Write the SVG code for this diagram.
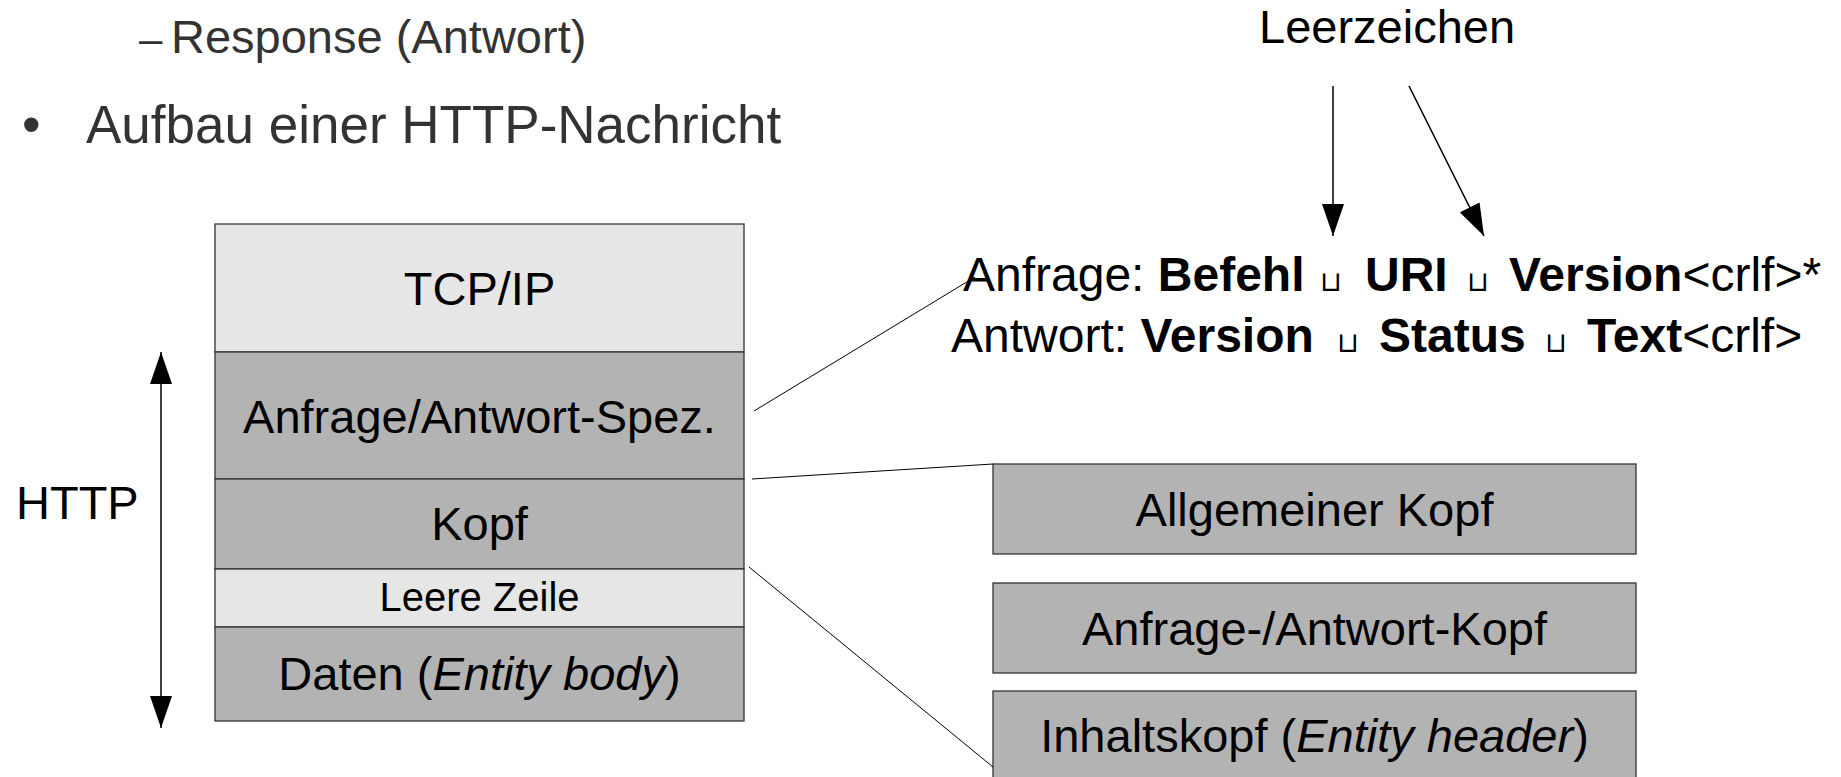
<svg xmlns="http://www.w3.org/2000/svg" width="1841" height="777" viewBox="0 0 1841 777">
  <style>
    .t { font-family: "Liberation Sans", Arial, sans-serif; fill: #000; }
    .h { font-family: "Liberation Sans", Arial, sans-serif; fill: #333; }
    .c { text-anchor: middle; }
    .b { font-weight: bold; }
    .sp { font-family: "DejaVu Sans", sans-serif; font-size: 28px; font-weight: normal; text-anchor: middle; }
    .light { fill: #e6e6e6; }
    .dark { fill: #b3b3b3; }
    .box { stroke: #333; stroke-width: 1.3; }
    .ln { stroke: #000; stroke-width: 1; fill: none; }
    .arr { stroke: #000; stroke-width: 1.5; fill: none; }
  </style>
  <defs>
    <marker id="ah" markerUnits="userSpaceOnUse" markerWidth="32" markerHeight="22" refX="32" refY="11" orient="auto-start-reverse">
      <path d="M0,0 L32,11 L0,22 Z" fill="#000"/>
    </marker>
  </defs>
  <rect width="1841" height="777" fill="#fff"/>

  <g id="heading">
    <text class="h" x="139" y="53" font-size="42">–</text>
    <text class="h" x="171" y="53" font-size="47">Response (Antwort)</text>
    <text class="h" x="22" y="143" font-size="53">•</text>
    <text class="h" x="86" y="143" font-size="53">Aufbau einer HTTP-Nachricht</text>
  </g>

  <g id="stack">
    <rect class="light box" x="215" y="224" width="529" height="128"/>
    <rect class="dark box" x="215" y="352" width="529" height="127"/>
    <rect class="dark box" x="215" y="479" width="529" height="90"/>
    <rect class="light box" x="215" y="569" width="529" height="58"/>
    <rect class="dark box" x="215" y="627" width="529" height="94"/>
    <text class="t c" x="479.5" y="305" font-size="47">TCP/IP</text>
    <text class="t c" x="479.5" y="433" font-size="47">Anfrage/Antwort-Spez.</text>
    <text class="t c" x="479.5" y="540" font-size="47">Kopf</text>
    <text class="t c" x="479.5" y="611" font-size="40">Leere Zeile</text>
    <text class="t c" x="479.5" y="690" font-size="47">Daten (<tspan font-style="italic">Entity body</tspan>)</text>
  </g>

  <g id="http-label">
    <text class="t" x="16" y="519" font-size="47">HTTP</text>
  </g>

  <g id="leerzeichen">
    <text class="t" x="1259" y="43" font-size="47">Leerzeichen</text>
  </g>

  <g id="request-line">
    <text class="t" y="291" font-size="48"><tspan x="963">Anfrage: </tspan><tspan class="b">Befehl</tspan><tspan class="sp" x="1331">⊔</tspan><tspan class="b" x="1365">URI</tspan><tspan class="sp" x="1478">⊔</tspan><tspan class="b" x="1509">Version</tspan><tspan>&lt;crlf&gt;*</tspan></text>
  </g>
  <g id="response-line">
    <text class="t" y="352" font-size="48"><tspan x="951">Antwort: </tspan><tspan class="b">Version</tspan><tspan class="sp" x="1348">⊔</tspan><tspan class="b" x="1379">Status</tspan><tspan class="sp" x="1556">⊔</tspan><tspan class="b" x="1587">Text</tspan><tspan>&lt;crlf&gt;</tspan></text>
  </g>

  <g id="allgemeiner-kopf">
    <rect class="dark box" x="993" y="464" width="643" height="90"/>
    <text class="t c" x="1314.5" y="526" font-size="47">Allgemeiner Kopf</text>
  </g>
  <g id="anfrage-antwort-kopf">
    <rect class="dark box" x="993" y="583" width="643" height="90"/>
    <text class="t c" x="1314.5" y="645" font-size="47">Anfrage-/Antwort-Kopf</text>
  </g>
  <g id="inhaltskopf">
    <rect class="dark box" x="993" y="691" width="643" height="100"/>
    <text class="t c" x="1314.5" y="752" font-size="47">Inhaltskopf (<tspan font-style="italic">Entity header</tspan>)</text>
  </g>

  <g id="connectors">
    <line class="arr" x1="161" y1="352" x2="161" y2="728" marker-start="url(#ah)" marker-end="url(#ah)"/>
    <line class="arr" x1="1333" y1="86" x2="1333" y2="236" marker-end="url(#ah)"/>
    <line class="arr" x1="1409" y1="86" x2="1484" y2="236" marker-end="url(#ah)"/>
    <line class="ln" x1="754" y1="411" x2="975" y2="277"/>
    <line class="ln" x1="752" y1="479" x2="993" y2="464"/>
    <line class="ln" x1="749" y1="567" x2="993" y2="767"/>
  </g>
</svg>
